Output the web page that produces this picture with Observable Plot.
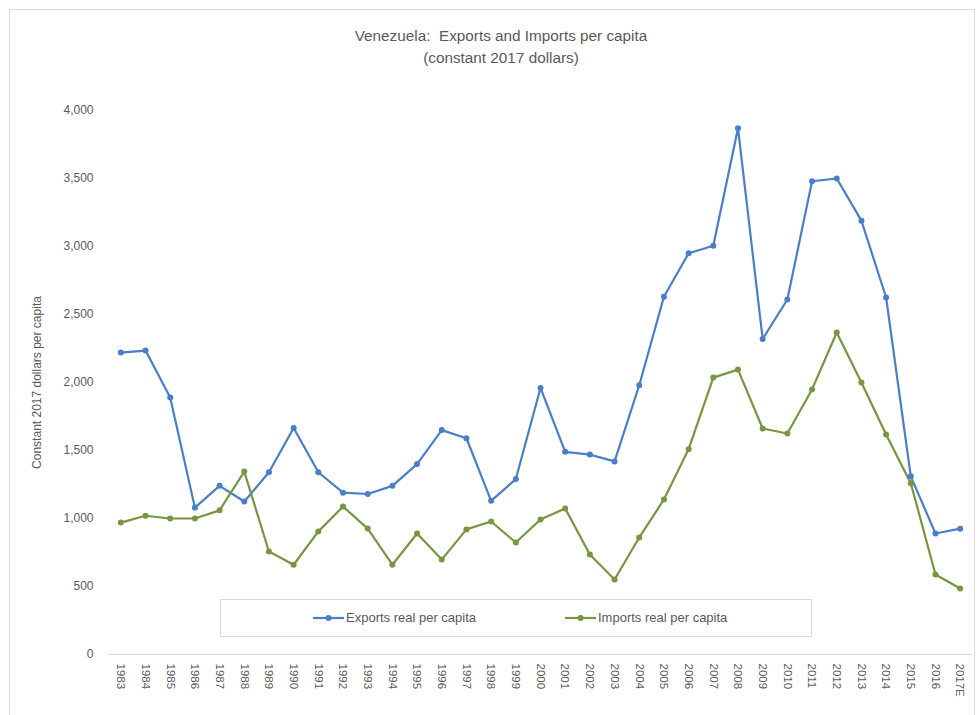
<!DOCTYPE html>
<html>
<head>
<meta charset="utf-8">
<script src="https://cdn.jsdelivr.net/npm/d3@7"></script>
<script src="https://cdn.jsdelivr.net/npm/@observablehq/plot@0.6"></script>
<style>
  html, body { margin: 0; padding: 0; background: #fff; }
  #wrap { position: relative; width: 978px; height: 715px; overflow: hidden; font-family: "Liberation Sans", Arial, sans-serif; color: #595959; }
  #frame { position: absolute; left: 9px; top: 9px; width: 966px; height: 720px; border: 1px solid #d9d9d9; box-sizing: border-box; }
  #title { position: absolute; left: 0; width: 1002px; top: 25px; text-align: center; font-size: 15.3px; line-height: 22px; color: #595959; }
  #chart { position: absolute; left: 0; top: 0; }
  #legend { position: absolute; left: 220px; top: 599px; width: 592px; height: 38px; border: 1px solid #d9d9d9; box-sizing: border-box; background: #fff; }
  .item { position: absolute; top: 10px; font-size: 13px; color: #595959; white-space: nowrap; display: flex; align-items: center; }
  .item svg { margin-right: 2px; }
</style>
</head>
<body>
<div id="wrap">
  <div id="frame"></div>
  <div id="chart"></div>
  <div id="title">Venezuela:&nbsp; Exports and Imports per capita<br>(constant 2017 dollars)</div>
  <div id="legend"></div>
</div>
<script>
const years = ["1983","1984","1985","1986","1987","1988","1989","1990","1991","1992","1993","1994","1995","1996","1997","1998","1999","2000","2001","2002","2003","2004","2005","2006","2007","2008","2009","2010","2011","2012","2013","2014","2015","2016","2017E"];
const exportsPC = [2220,2235,1890,1080,1240,1125,1340,1665,1340,1190,1180,1240,1400,1650,1590,1130,1290,1960,1490,1470,1420,1980,2630,2950,3005,3870,2320,2610,3480,3500,3190,2625,1310,890,925];
const importsPC = [970,1020,1000,1000,1060,1345,757,660,905,1088,926,660,890,698,920,978,823,993,1074,735,551,860,1140,1510,2036,2095,1662,1625,1949,2368,2000,1618,1260,588,485];
const seriesNames = ["Exports real per capita", "Imports real per capita"];
const seriesColors = ["#4a7ec8", "#76963f"];
const yTicks = [0,500,1000,1500,2000,2500,3000,3500,4000];

const data = [];
years.forEach((yr, i) => {
  data.push({year: yr, value: exportsPC[i], series: seriesNames[0]});
  data.push({year: yr, value: importsPC[i], series: seriesNames[1]});
});

const chart = Plot.plot({
  width: 978,
  height: 715,
  marginTop: 110,
  marginBottom: 61,
  marginLeft: 108,
  marginRight: 6,
  style: { fontFamily: "'Liberation Sans', Arial, sans-serif", color: "#595959", background: "transparent", overflow: "visible" },
  x: { type: "point", domain: years, padding: 0.5, round: false },
  y: { domain: [0, 4000] },
  color: { domain: seriesNames, range: seriesColors },
  marks: [
    Plot.axisY({ ticks: yTicks, tickFormat: d3.format(","), tickSize: 0, tickPadding: 15, fontSize: 12, label: "Constant 2017 dollars per capita", labelAnchor: "center", labelArrow: "none", labelOffset: 76 }),
    Plot.axisX({ tickSize: 0, tickPadding: 9, tickRotate: 90, fontSize: 11.5, label: null }),
    Plot.ruleY([0], { stroke: "#d9d9d9", strokeWidth: 1 }),
    Plot.line(data, { x: "year", y: "value", stroke: "series", strokeWidth: 2.2 }),
    Plot.dot(data, { x: "year", y: "value", fill: "series", r: 3 })
  ]
});
document.getElementById("chart").appendChild(chart);

// legend
const legend = document.getElementById("legend");
const legendPos = [92, 344];
seriesNames.forEach((name, i) => {
  const item = document.createElement("div");
  item.className = "item";
  item.style.left = legendPos[i] + "px";
  item.innerHTML = `<svg width="31" height="10"><line x1="0" y1="5" x2="31" y2="5" stroke="${seriesColors[i]}" stroke-width="2.2"/><circle cx="15.5" cy="5" r="3" fill="${seriesColors[i]}"/></svg><span>${name}</span>`;
  legend.appendChild(item);
});
</script>
</body>
</html>
